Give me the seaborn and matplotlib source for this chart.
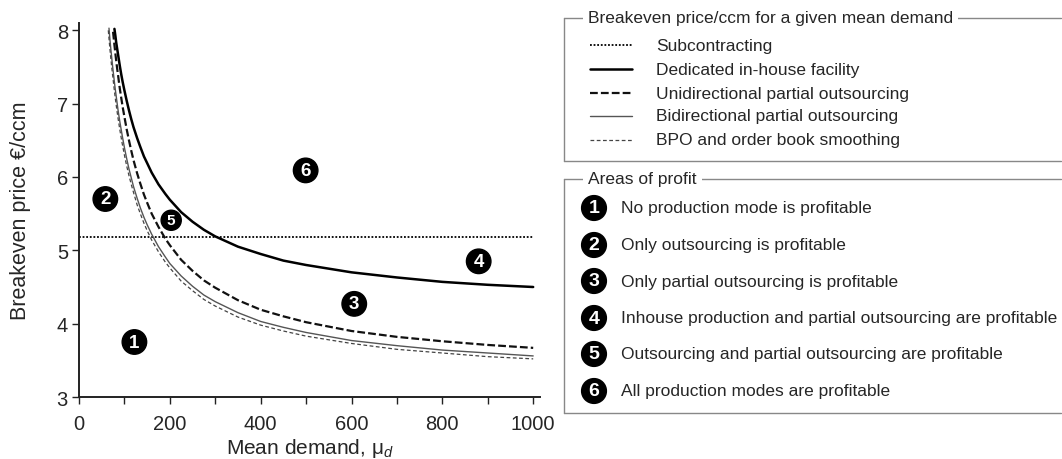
import numpy as np
import pandas as pd
import matplotlib
matplotlib.use("Agg")
import matplotlib.pyplot as plt
from matplotlib.lines import Line2D
from matplotlib.ticker import MultipleLocator
import seaborn as sns

# ---------------- data ----------------
subcontract_x = [0, 1000]
subcontract_y = [5.18, 5.18]

dedicated_x = [78, 80, 82, 84, 86, 88, 90, 93, 96, 100, 105, 110, 115, 120, 128, 135, 143, 150, 160, 175, 190, 200,
               225, 250, 275, 300, 350, 400, 450, 500, 600, 700, 800, 900, 1000]
dedicated_y = [8.02, 7.93, 7.83, 7.75, 7.67, 7.59, 7.51, 7.40, 7.30, 7.18, 7.04, 6.91, 6.79, 6.68, 6.53, 6.41, 6.28, 6.19, 6.06, 5.90, 5.77, 5.69,
               5.52, 5.39, 5.28, 5.19, 5.05, 4.95, 4.86, 4.80, 4.70, 4.63, 4.57, 4.53, 4.50]

unidir_x = [75, 78, 80, 82, 84, 86, 88, 90, 93, 96, 100, 105, 110, 115, 120, 128, 135, 143, 150, 160, 175, 190, 200,
            225, 250, 275, 300, 350, 400, 450, 500, 600, 700, 800, 900, 1000]
unidir_y = [7.98, 7.80, 7.69, 7.58, 7.48, 7.39, 7.29, 7.20, 7.08, 6.96, 6.82, 6.65, 6.50, 6.36, 6.23, 6.05, 5.91, 5.76, 5.65, 5.50, 5.32, 5.16, 5.07,
            4.87, 4.72, 4.59, 4.49, 4.32, 4.19, 4.10, 4.02, 3.90, 3.82, 3.76, 3.71, 3.67]

bidir_x = [66, 68, 70, 72, 74, 76, 78, 80, 83, 86, 90, 95, 100, 105, 110, 115, 120, 128, 135, 143, 150, 160, 175, 190, 200,
           225, 250, 275, 300, 350, 400, 450, 500, 600, 700, 800, 900, 1000]
bidir_y = [8.03, 7.88, 7.75, 7.63, 7.51, 7.40, 7.29, 7.19, 7.05, 6.91, 6.75, 6.57, 6.40, 6.25, 6.11, 5.99, 5.87, 5.71, 5.58, 5.45, 5.35, 5.22, 5.05, 4.91, 4.82,
           4.65, 4.51, 4.39, 4.30, 4.15, 4.03, 3.95, 3.88, 3.77, 3.70, 3.64, 3.60, 3.56]

bpo_x = [64.5, 66, 68, 70, 72, 74, 76, 78, 80, 83, 86, 90, 95, 100, 105, 110, 115, 120, 128, 135, 143, 150, 160, 175, 190, 200,
         225, 250, 275, 300, 350, 400, 450, 500, 600, 700, 800, 900, 1000]
bpo_y = [8.00, 7.89, 7.75, 7.62, 7.50, 7.39, 7.28, 7.17, 7.07, 6.93, 6.80, 6.64, 6.46, 6.30, 6.15, 6.02, 5.90, 5.79, 5.62, 5.50, 5.37, 5.27, 5.14, 4.98, 4.84, 4.76,
         4.58, 4.45, 4.33, 4.24, 4.09, 3.98, 3.90, 3.83, 3.73, 3.65, 3.60, 3.55, 3.52]

series_labels = ["Subcontracting", "Dedicated in-house facility",
                 "Unidirectional partial outsourcing", "Bidirectional partial outsourcing",
                 "BPO and order book smoothing"]

area_ids = ["1", "2", "3", "4", "5", "6"]
area_labels = ["No production mode is profitable",
               "Only outsourcing is profitable",
               "Only partial outsourcing is profitable",
               "Inhouse production and partial outsourcing are profitable",
               "Outsourcing and partial outsourcing are profitable",
               "All production modes are profitable"]
# annotation anchor positions of the area markers (data coords)
area_mu = [122, 58, 606, 880, 203, 499]
area_price = [3.75, 5.70, 4.27, 4.85, 5.41, 6.09]

# ---------------- figure ----------------
sns.set_style("ticks")
plt.rcParams['font.family'] = ['Liberation Sans', 'DejaVu Sans']
plt.rcParams['mathtext.fontset'] = 'custom'
plt.rcParams['mathtext.it'] = 'Liberation Sans:italic'
plt.rcParams['mathtext.rm'] = 'Liberation Sans'

W, H = 1062, 460
fig = plt.figure(figsize=(W / 100, H / 100), dpi=100)
ax = fig.add_axes([79 / W, 1 - 398 / H, (540 - 79) / W, (398 - 24) / H])

def fx(px):
    return px / W

def fy(py):
    return 1 - py / H

styles = {
    "sub": dict(color="black", lw=1.3, dashes=(1.0, 1.0)),
    "ded": dict(color="black", lw=1.8, dashes=None),
    "uni": dict(color="#111111", lw=1.6, dashes=(3.5, 1.4)),
    "bid": dict(color="#555555", lw=1.0, dashes=None),
    "bpo": dict(color="#444444", lw=0.9, dashes=(3.0, 2.0)),
}

def draw(xs, ys, st):
    sns.lineplot(x=xs, y=ys, ax=ax, color=st["color"], lw=st["lw"], sort=False)
    ln = ax.lines[-1]
    if st["dashes"] is not None:
        ln.set_dashes(st["dashes"])

draw(subcontract_x, subcontract_y, styles["sub"])
draw(dedicated_x, dedicated_y, styles["ded"])
draw(unidir_x, unidir_y, styles["uni"])
draw(bidir_x, bidir_y, styles["bid"])
draw(bpo_x, bpo_y, styles["bpo"])

ax.set_xlim(0, 1015)
ax.set_ylim(3, 8.1)
ax.set_xticks([0, 200, 400, 600, 800, 1000])
ax.xaxis.set_minor_locator(MultipleLocator(100))
ax.set_yticks([3, 4, 5, 6, 7, 8])
sns.despine(ax=ax)
for s in ["left", "bottom"]:
    ax.spines[s].set_linewidth(1.4)
    ax.spines[s].set_color("#222222")
ax.tick_params(axis="both", which="both", direction="out", color="#222222", width=1.0)
ax.tick_params(axis="x", which="major", length=5, pad=7, labelsize=14.5)
ax.tick_params(axis="x", which="minor", length=5)
ax.tick_params(axis="y", which="major", length=5, pad=3, labelsize=14.5)

ax.set_xlabel("Mean demand, μ$_d$", fontsize=15)
ax.set_ylabel("Breakeven price €/ccm", fontsize=15.5)
ax.xaxis.set_label_coords(0.5, -0.105)
ax.yaxis.set_label_coords(-0.105, 0.5)

# area markers in plot
for i, (m, p) in enumerate(zip(area_mu, area_price)):
    small = area_ids[i] == "5"
    ax.text(m, p, area_ids[i], color="white", fontsize=11 if small else 13.5,
            fontweight="bold", ha="center", va="center",
            bbox=dict(boxstyle="circle,pad=0.2", fc="black", ec="black"))

# ---------------- custom legends ----------------
box_col = "#888888"

def box(top, bottom, title):
    left, right = 564, 1061
    fig.add_artist(Line2D([fx(left), fx(left)], [fy(top), fy(bottom)], color=box_col, lw=1.0))
    fig.add_artist(Line2D([fx(left), fx(right)], [fy(bottom), fy(bottom)], color=box_col, lw=1.0))
    fig.add_artist(Line2D([fx(left), fx(right)], [fy(top), fy(top)], color=box_col, lw=1.0))
    fig.text(fx(588), fy(top), title, fontsize=12.5, ha="left", va="center",
             bbox=dict(boxstyle="square,pad=0.3", fc="white", ec="none"))

box(19, 162, "Breakeven price/ccm for a given mean demand")
box(180, 414, "Areas of profit")

rows1 = [46, 70, 94, 117, 141]
keys = ["sub", "ded", "uni", "bid", "bpo"]
for r, k, lab in zip(rows1, keys, series_labels):
    st = styles[k]
    ln = Line2D([fx(590), fx(632)], [fy(r), fy(r)], color=st["color"], lw=st["lw"])
    if st["dashes"] is not None:
        ln.set_dashes(st["dashes"])
    fig.add_artist(ln)
    fig.text(fx(656), fy(r), lab, fontsize=12.5, ha="left", va="center")

rows2 = [209, 246, 282, 319, 355, 392]
for r, aid, lab in zip(rows2, area_ids, area_labels):
    fig.text(fx(594), fy(r), aid, color="white", fontsize=14, fontweight="bold",
             ha="center", va="center",
             bbox=dict(boxstyle="circle,pad=0.2", fc="black", ec="black"))
    fig.text(fx(621), fy(r), lab, fontsize=12.5, ha="left", va="center")

fig.savefig("out.png", dpi=100, facecolor="white")
